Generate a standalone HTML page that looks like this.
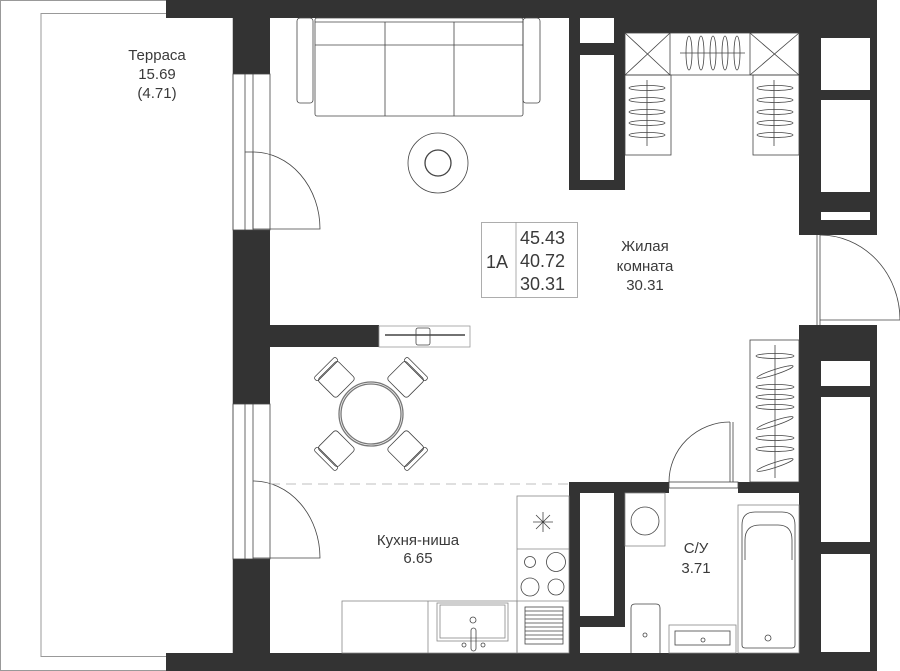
<!DOCTYPE html>
<html><head><meta charset="utf-8"><style>
html,body{margin:0;padding:0;background:#fff;}
svg{display:block;}
text{font-family:"Liberation Sans",sans-serif;fill:#3a3a3a;}
</style></head><body>
<svg width="900" height="671" viewBox="0 0 900 671" xmlns="http://www.w3.org/2000/svg">
<g fill="none" stroke="#999" stroke-width="1">
<polyline points="166,0.5 0.5,0.5 0.5,670.5 166,670.5"/>
<rect x="41" y="13.5" width="192" height="643"/>
</g>
<g fill="#333">
<rect x="166" y="0" width="711" height="18"/>
<rect x="166" y="653" width="711" height="18"/>
<rect x="233" y="0" width="37" height="74"/>
<rect x="233" y="230" width="37" height="174"/>
<rect x="233" y="559" width="37" height="112"/>
<rect x="233" y="325" width="146" height="22"/>
<rect x="569" y="18" width="56" height="172"/>
<rect x="625" y="18" width="175" height="15"/>
<rect x="799" y="0" width="78" height="235"/>
<rect x="799" y="325" width="78" height="346"/>
<rect x="569" y="482" width="100" height="11"/>
<rect x="738" y="482" width="61" height="11"/>
<rect x="569" y="482" width="56" height="171"/>
</g>
<g fill="#fff">
<rect x="580" y="18" width="34" height="25"/>
<rect x="580" y="55" width="34" height="125"/>
<rect x="821" y="38" width="49" height="52"/>
<rect x="821" y="100" width="49" height="92"/>
<rect x="821" y="212" width="49" height="8"/>
<rect x="821" y="361" width="49" height="25"/>
<rect x="821" y="397" width="49" height="145"/>
<rect x="821" y="554" width="49" height="98"/>
<rect x="580" y="493" width="34" height="123"/>
<rect x="580" y="627" width="45" height="26"/>
</g>
<g fill="none" stroke="#444" stroke-width="0.8">
<!-- left windows/doors -->
<rect x="233" y="74" width="37" height="156"/>
<line x1="245" y1="74" x2="245" y2="230"/><line x1="253" y1="74" x2="253" y2="230"/>
<line x1="245" y1="152" x2="253" y2="152"/><line x1="253" y1="152" x2="253" y2="229"/>
<path d="M253,152 A67,77 0 0 1 320,229 L253,229"/>
<rect x="233" y="404" width="37" height="155"/>
<line x1="245" y1="404" x2="245" y2="559"/><line x1="253" y1="404" x2="253" y2="559"/>
<path d="M253,481 A67,77 0 0 1 320,558 L253,558"/>
<!-- sofa -->
<rect x="297" y="18" width="16" height="85" rx="3"/>
<rect x="315" y="18" width="208" height="98" rx="2"/>
<line x1="315" y1="22" x2="523" y2="22"/><line x1="315" y1="45" x2="523" y2="45"/>
<line x1="385" y1="22" x2="385" y2="116"/><line x1="454" y1="22" x2="454" y2="116"/>
<rect x="523" y="18" width="17" height="85" rx="3"/>
<circle cx="438" cy="163" r="30"/><circle cx="438" cy="163" r="13" stroke-width="1.3"/>
<!-- closet -->
<rect x="625" y="33" width="174" height="42"/>
<line x1="670" y1="33" x2="670" y2="75"/><line x1="750" y1="33" x2="750" y2="75"/>
<path d="M625,33 L670,75 M670,33 L625,75 M750,33 L799,75 M799,33 L750,75"/>
<line x1="680" y1="53" x2="745" y2="53"/>
<g>
<ellipse cx="689" cy="53" rx="3" ry="17"/><ellipse cx="701" cy="53" rx="3" ry="17"/><ellipse cx="713" cy="53" rx="3" ry="17"/><ellipse cx="725" cy="53" rx="3" ry="17"/><ellipse cx="737" cy="53" rx="3" ry="17"/>
</g>
<rect x="625" y="75" width="46" height="80"/><rect x="753" y="75" width="46" height="80"/>
<line x1="647" y1="80" x2="647" y2="146"/><line x1="774" y1="80" x2="774" y2="146"/>
<g>
<ellipse cx="647" cy="88" rx="18" ry="2.5"/><ellipse cx="647" cy="100" rx="18" ry="2.5"/><ellipse cx="647" cy="112" rx="18" ry="2.5"/><ellipse cx="647" cy="123" rx="18" ry="2.5"/><ellipse cx="647" cy="135" rx="18" ry="2.5"/>
<ellipse cx="775" cy="88" rx="18" ry="2.5"/><ellipse cx="775" cy="100" rx="18" ry="2.5"/><ellipse cx="775" cy="112" rx="18" ry="2.5"/><ellipse cx="775" cy="123" rx="18" ry="2.5"/><ellipse cx="775" cy="135" rx="18" ry="2.5"/>
</g>
<!-- right door -->
<line x1="817" y1="235" x2="817" y2="325"/><line x1="820" y1="235" x2="820" y2="325"/>
<path d="M820,235 A80,85 0 0 1 900,320 L820,320"/>
<!-- hangers right -->
<rect x="750" y="340" width="49" height="142"/>
<line x1="775" y1="345" x2="775" y2="478"/>
<g>
<ellipse cx="775" cy="356" rx="19" ry="2.5"/><ellipse cx="775" cy="372" rx="19" ry="2.5" transform="rotate(-18 775 372)"/><ellipse cx="775" cy="387" rx="19" ry="2.5"/><ellipse cx="775" cy="397" rx="19" ry="2.5"/><ellipse cx="775" cy="407" rx="19" ry="2.5"/><ellipse cx="775" cy="423" rx="19" ry="2.5" transform="rotate(-18 775 423)"/><ellipse cx="775" cy="438" rx="19" ry="2.5"/><ellipse cx="775" cy="449" rx="19" ry="2.5"/><ellipse cx="775" cy="465" rx="19" ry="2.5" transform="rotate(-18 775 465)"/>
</g>
<!-- bathroom door -->
<line x1="730" y1="422" x2="730" y2="482"/><line x1="733" y1="422" x2="733" y2="482"/>
<path d="M730,422 A61,60 0 0 0 669,482"/>
<rect x="669" y="482" width="69" height="6"/>
<!-- counter element -->
<rect x="379" y="326" width="91" height="21" stroke="#999"/>
<line x1="385" y1="335" x2="465" y2="335" stroke-width="1.5"/>
<rect x="416" y="328" width="14" height="17" rx="2"/>
<!-- table & chairs -->
<circle cx="371" cy="414" r="32" stroke="#777" stroke-width="1.3"/>
<g transform="translate(371 414)">
<g id="ch"><rect x="-14" y="-62" width="28" height="26" rx="3" transform="rotate(-45)"/><rect x="-15" y="-66" width="30" height="5" rx="2" transform="rotate(-45)"/></g>
<g transform="rotate(90)"><rect x="-14" y="-62" width="28" height="26" rx="3" transform="rotate(-45)"/><rect x="-15" y="-66" width="30" height="5" rx="2" transform="rotate(-45)"/></g>
<g transform="rotate(180)"><rect x="-14" y="-62" width="28" height="26" rx="3" transform="rotate(-45)"/><rect x="-15" y="-66" width="30" height="5" rx="2" transform="rotate(-45)"/></g>
<g transform="rotate(270)"><rect x="-14" y="-62" width="28" height="26" rx="3" transform="rotate(-45)"/><rect x="-15" y="-66" width="30" height="5" rx="2" transform="rotate(-45)"/></g>
</g>
<circle cx="371" cy="414" r="30" fill="#fff" stroke="#777" stroke-width="1.3"/>
<!-- kitchen -->
<line x1="270" y1="484" x2="569" y2="484" stroke="#aaa" stroke-dasharray="10,6"/>
<rect x="342" y="601" width="175" height="52" stroke="#888"/>
<line x1="428" y1="601" x2="428" y2="653" stroke="#888"/>
<rect x="437" y="603" width="71" height="38" stroke="#888"/><rect x="440" y="605" width="65" height="33" stroke="#888"/>
<circle cx="473" cy="620" r="3"/><rect x="471" y="628" width="5" height="23" rx="2.5"/><circle cx="464" cy="645" r="2"/><circle cx="483" cy="645" r="2"/>
<rect x="517" y="496" width="52" height="157" stroke="#888"/>
<line x1="517" y1="549" x2="569" y2="549" stroke="#888"/><line x1="517" y1="601" x2="569" y2="601" stroke="#888"/>
<path d="M543,512 L543,532 M533,522 L553,522 M536,515 L550,529 M550,515 L536,529"/>
<circle cx="530" cy="562" r="5.5"/><circle cx="556" cy="562" r="9.5"/><circle cx="530" cy="587" r="9"/><circle cx="556" cy="587" r="8"/>
<rect x="525" y="607" width="38" height="37"/>
<path d="M525,611H563M525,615H563M525,619H563M525,623H563M525,627H563M525,631H563M525,635H563M525,639H563"/>
<!-- bathroom -->
<rect x="625" y="493" width="40" height="53" stroke="#888"/>
<circle cx="645" cy="521" r="14"/>
<path d="M631,653 L631,608 Q631,604 635,604 L656,604 Q660,604 660,608 L660,653"/>
<circle cx="645" cy="635" r="2"/>
<rect x="669" y="625" width="67" height="28" stroke="#888"/><rect x="675" y="631" width="55" height="14"/><circle cx="703" cy="640" r="2"/>
<rect x="738" y="505" width="61" height="148" stroke="#888"/>
<path d="M742,645 L742,525 Q742,512 755,512 L782,512 Q795,512 795,525 L795,645 Q795,648 792,648 L745,648 Q742,648 742,645 Z"/>
<path d="M745,560 L745,540 Q745,525 760,525 L778,525 Q792,525 792,540 L792,560"/>
<circle cx="768" cy="638" r="3"/>
<!-- 1A box -->
<rect x="481.5" y="222.5" width="96" height="75" stroke="#999"/>
<line x1="516" y1="222" x2="516" y2="297" stroke="#999"/>
</g>
<g font-size="15" text-anchor="middle">
<text x="157" y="60">Терраса</text>
<text x="157" y="79">15.69</text>
<text x="157" y="98">(4.71)</text>
<text x="645" y="251">Жилая</text>
<text x="645" y="271">комната</text>
<text x="645" y="290">30.31</text>
<text x="418" y="545">Кухня-ниша</text>
<text x="418" y="563">6.65</text>
<text x="696" y="553">С/У</text>
<text x="696" y="573">3.71</text>
</g>
<g font-size="18">
<text x="486" y="268">1A</text>
<text x="520" y="244">45.43</text>
<text x="520" y="267">40.72</text>
<text x="520" y="290">30.31</text>
</g>
</svg>
</body></html>
